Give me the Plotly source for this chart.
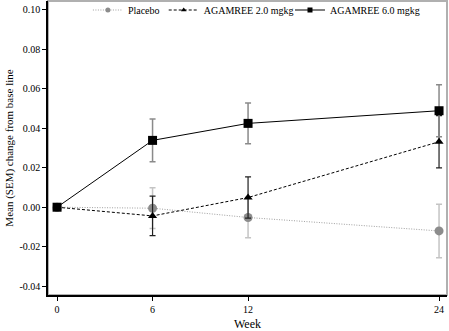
import plotly.graph_objects as go

weeks = [0, 6, 12, 24]
placebo = [0.0, -0.0005, -0.0052, -0.0120]
placebo_sem = [0.0, 0.0103, 0.0103, 0.0135]
ag2 = [0.0, -0.0044, 0.0049, 0.0331]
ag2_sem = [0.0, 0.0100, 0.0104, 0.0132]
ag6 = [0.0, 0.0338, 0.0424, 0.0488]
ag6_sem = [0.0, 0.0108, 0.0103, 0.0131]
series_names = ["Placebo", "AGAMREE 2.0 mgkg", "AGAMREE 6.0 mgkg"]
yticks = [-0.04, -0.02, 0.0, 0.02, 0.04, 0.06, 0.08, 0.10]
ytick_labels = ["-0.04", "-0.02", "0.00", "0.02", "0.04", "0.06", "0.08", "0.10"]

font = "Liberation Serif, Times New Roman, serif"

styles = [
    dict(line=dict(color="#a0a0a0", width=1, dash="1px,1.5px"),
         marker_symbol="circle", marker_color="#8c8c8c", size=9,
         err_color="#c4c4c4", err_th=1.5),
    dict(line=dict(color="#000000", width=1, dash="3px,2px"),
         marker_symbol="triangle-up", marker_color="#000000", size=8,
         err_color="#202020", err_th=1.2),
    dict(line=dict(color="#000000", width=1),
         marker_symbol="square", marker_color="#000000", size=9,
         err_color="#8a8a8a", err_th=1.5),
]
values = [(placebo, placebo_sem), (ag2, ag2_sem), (ag6, ag6_sem)]
legend_ids = ["legend", "legend2", "legend3"]

fig = go.Figure()
for name, st, (vals, sem) in zip(series_names, styles, values):
    fig.add_trace(go.Scatter(
        x=weeks, y=vals, name=name, mode="lines+markers", showlegend=False,
        line=st["line"],
        marker=dict(symbol=st["marker_symbol"], size=st["size"], color=st["marker_color"]),
        error_y=dict(type="data", array=sem, color=st["err_color"], thickness=st["err_th"], width=3),
    ))
for name, st, lg in zip(series_names, styles, legend_ids):
    fig.add_trace(go.Scatter(
        x=[None], y=[None], name=name, mode="lines+markers", showlegend=True, legend=lg,
        line=st["line"],
        marker=dict(symbol=st["marker_symbol"], size=5, color=st["marker_color"]),
    ))

fig.add_shape(type="rect", xref="paper", yref="paper", x0=0, y0=0, x1=1, y1=1,
              line=dict(color="#b0b0b0", width=2), layer="below")

leg_common = dict(orientation="h", y=1.0187, xanchor="left", yanchor="top",
                  bgcolor="rgba(0,0,0,0)", font=dict(family=font, size=10),
                  itemwidth=30)
fig.update_layout(
    width=449, height=331,
    margin=dict(l=48, r=2, t=1, b=36, autoexpand=False),
    paper_bgcolor="white", plot_bgcolor="white",
    font=dict(family=font, size=10, color="#000000"),
    showlegend=True,
    legend=dict(x=0.100, **leg_common),
    legend2=dict(x=0.290, **leg_common),
    legend3=dict(x=0.6065, **leg_common),
)
fig.update_xaxes(
    range=[-0.57, 24.5], tickvals=weeks, ticktext=[str(w) for w in weeks],
    ticks="outside", ticklen=4, tickcolor="#000000", showgrid=False, zeroline=False,
    showline=True, linecolor="#000000", linewidth=1.5,
    title=dict(text="Week", font=dict(family=font, size=12), standoff=9),
    tickfont=dict(family=font, size=10),
)
fig.update_yaxes(
    range=[-0.0444, 0.1043], tickvals=yticks, ticktext=ytick_labels,
    ticks="outside", ticklen=4, tickcolor="#000000", showgrid=False, zeroline=False,
    showline=True, linecolor="#000000", linewidth=1.5,
    title=dict(text="Mean (SEM) change from base line", font=dict(family=font, size=11), standoff=4),
    tickfont=dict(family=font, size=10),
)

fig.write_html("out.html")
